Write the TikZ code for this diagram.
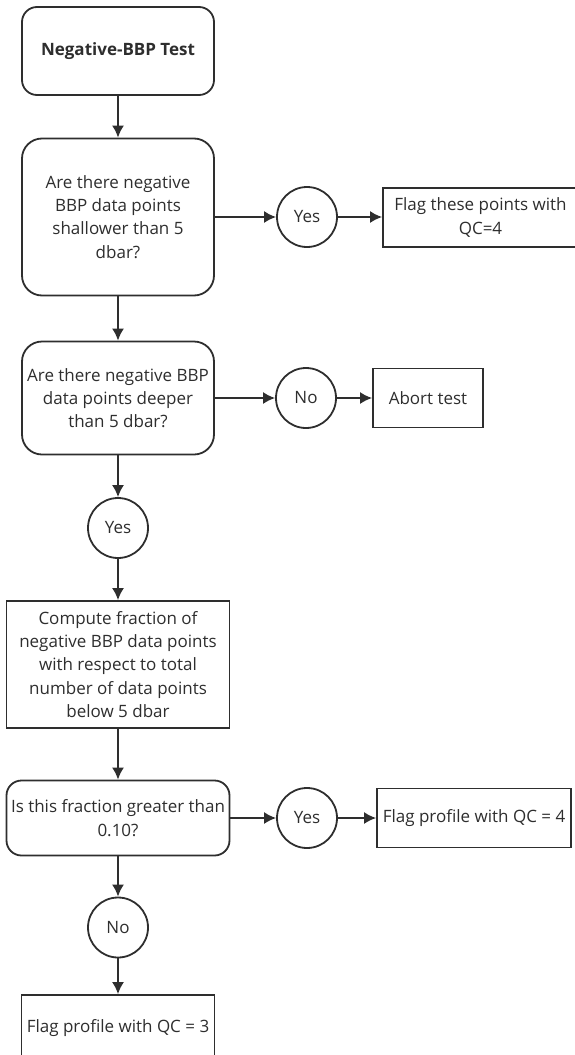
\documentclass[tikz,border=0pt]{standalone}
\usepackage{fontspec}
\setmainfont{Open Sans}
\usepackage{xcolor}
\usetikzlibrary{arrows.meta,positioning}
\definecolor{Ink}{HTML}{2E2E2E}
\tikzset{
  base/.style={draw=Ink,line width=1.8pt,fill=white,align=center,inner sep=1pt,
    font=\fontsize{17}{23.3}\selectfont,text=Ink},
  startbox/.style={base,rounded corners=15pt},
  askbox/.style={base,rounded corners=20pt},
  actbox/.style={base},
  answer/.style={base,circle,minimum size=60pt,inner sep=0pt},
  arrow/.style={-{Latex[length=12pt,width=12pt]},line width=1.8pt,draw=Ink}
}
\begin{document}
\begin{tikzpicture}[x=1pt,y=-1pt]
  \useasboundingbox (0,0) rectangle (575,1055);
  % main column
  \node[startbox,minimum width=192pt,minimum height=88pt] (start) at (118,51) {\textbf{Negative-BBP Test}};
  \node[askbox,minimum width=192pt,minimum height=157pt] (askshallow) at (118,217)
    {Are there negative\\BBP data points\\shallower than 5\\dbar?};
  \node[askbox,minimum width=192pt,minimum height=113pt] (askdeep) at (118,398)
    {Are there negative BBP\\data points deeper\\than 5 dbar?};
  \node[answer] (yesdeep) at (118,528) {Yes};
  \node[actbox,minimum width=223pt,minimum height=127pt] (fraction) at (118,664.5)
    {Compute fraction of\\negative BBP data points\\with respect to total\\number of data points\\below 5 dbar};
  \node[askbox,rounded corners=15pt,minimum width=223pt,minimum height=75pt] (askfrac) at (118,818)
    {Is this fraction greater than\\0.10?};
  \node[answer] (nofrac) at (118,927.5) {No};
  \node[actbox,minimum width=193pt,minimum height=66pt] (flagthree) at (118,1028) {Flag profile with QC = 3};
  % side branches
  \node[answer] (yesshallow) at (307,217) {Yes};
  \node[actbox,minimum width=195pt,minimum height=59pt] (flagpoints) at (480.5,217.5)
    {Flag these points with\\QC=4};
  \node[answer] (nodeep) at (306,398) {No};
  \node[actbox,minimum width=110pt,minimum height=59pt] (abort) at (428,398) {Abort test};
  \node[answer] (yesfrac) at (307,818) {Yes};
  \node[actbox,minimum width=194pt,minimum height=59pt] (flagfour) at (474,818) {Flag profile with QC = 4};
  % connectors
  \draw[arrow] (start) -- (askshallow);
  \draw[arrow] (askshallow) -- (askdeep);
  \draw[arrow] (askdeep) -- (yesdeep);
  \draw[arrow] (yesdeep) -- (fraction);
  \draw[arrow] (fraction) -- (askfrac);
  \draw[arrow] (askfrac) -- (nofrac);
  \draw[arrow] (nofrac) -- (flagthree);
  \draw[arrow] (askshallow) -- (yesshallow);
  \draw[arrow] (yesshallow) -- (flagpoints.west |- yesshallow);
  \draw[arrow] (askdeep) -- (nodeep);
  \draw[arrow] (nodeep) -- (abort);
  \draw[arrow] (askfrac) -- (yesfrac);
  \draw[arrow] (yesfrac) -- (flagfour);
\end{tikzpicture}
\end{document}
